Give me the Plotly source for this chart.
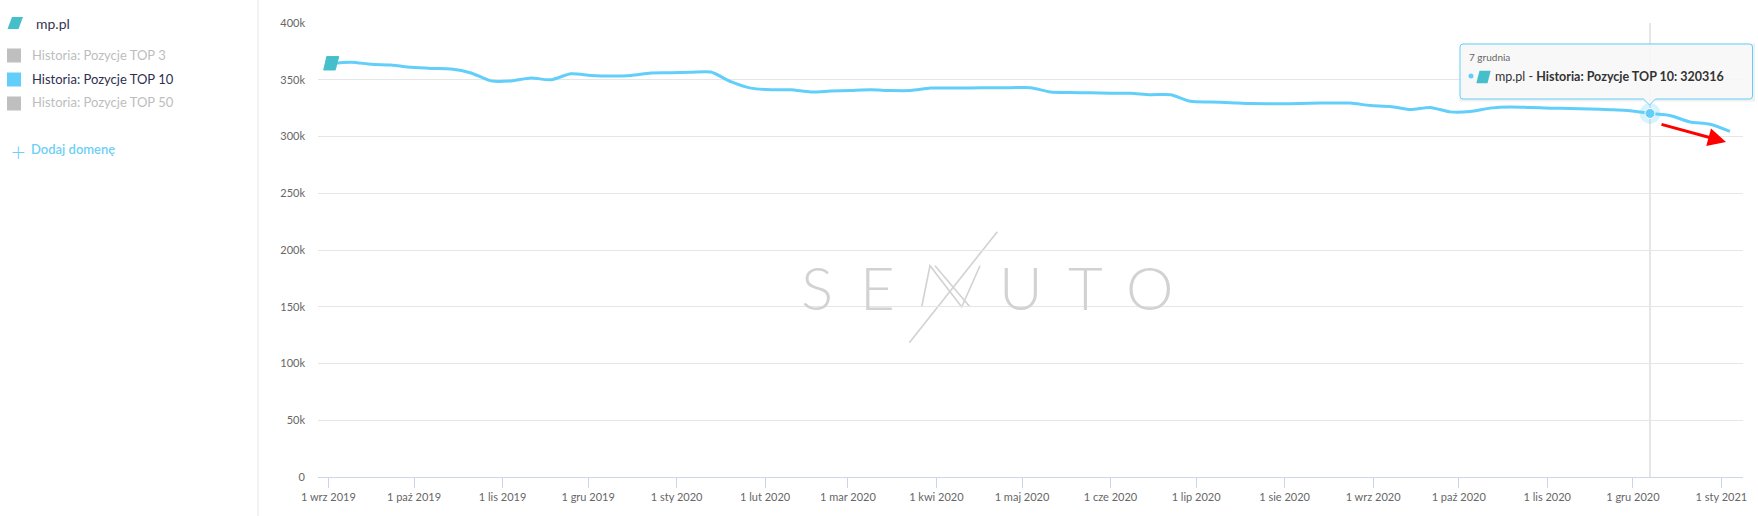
import plotly.graph_objects as go
from datetime import date, timedelta

# ---------------- data ----------------
series_name = "Historia: Pozycje TOP 10"
domain_name = "mp.pl"
start_week = date(2019, 9, 2)
values = [364500, 365500, 363600, 362900, 361000, 360000, 359500, 356000, 349000, 349000,
          351500, 350000, 355300, 353800, 353300, 353800, 356000, 356200, 356500, 356800,
          348300, 342600, 341200, 341200, 339200, 340000, 340600, 341200, 340500, 340500,
          342700, 342700, 342800, 343000, 343000, 343000, 339200, 338800, 338500, 338200,
          338000, 336800, 336800, 331000, 330400, 329800, 329000, 328900, 328900, 329300,
          329500, 329500, 327300, 326500, 323700, 325600, 321700, 322000, 325000, 326000,
          325500, 325000, 324600, 324200, 323600, 322700, 320316, 318500, 312800, 310800,
          304500]
dates = [start_week + timedelta(weeks=i) for i in range(len(values))]
hover_index = 66

month_abbr = ["sty", "lut", "mar", "kwi", "maj", "cze", "lip", "sie", "wrz", "paź", "lis", "gru"]
month_gen = ["stycznia", "lutego", "marca", "kwietnia", "maja", "czerwca", "lipca", "sierpnia",
             "września", "października", "listopada", "grudnia"]
tick_months = [(2019, 9), (2019, 10), (2019, 11), (2019, 12), (2020, 1), (2020, 2), (2020, 3),
               (2020, 4), (2020, 5), (2020, 6), (2020, 7), (2020, 8), (2020, 9), (2020, 10),
               (2020, 11), (2020, 12), (2021, 1)]
x_tickvals = [date(y, m, 1).isoformat() for y, m in tick_months]
x_ticktext = [f"1 {month_abbr[m - 1]} {y}" for y, m in tick_months]
y_tickvals = [0, 50000, 100000, 150000, 200000, 250000, 300000, 350000, 400000]
y_ticktext = ["0", "50k", "100k", "150k", "200k", "250k", "300k", "350k", "400k"]

legend_items = ["Historia: Pozycje TOP 3", "Historia: Pozycje TOP 10", "Historia: Pozycje TOP 50"]
legend_active = [False, True, False]

# ---------------- layout geometry ----------------
W, H = 1758, 516
L, R, T, B = 318, 15, 23, 39
PW, PH = W - L - R, H - T - B

def px(x):
    return (x - L) / PW

def py(y):
    return (H - B - y) / PH

LINE = "#62cffa"
TEAL = "#45bfca"
FONT = "Lato"

fig = go.Figure()

fig.add_trace(go.Scatter(
    x=dates, y=values, mode="lines", name=series_name,
    line=dict(color=LINE, width=3, shape="spline", smoothing=0.7),
    hoverinfo="skip", showlegend=False))

# hovered point (halo + dot)
fig.add_trace(go.Scatter(
    x=[dates[hover_index]], y=[values[hover_index]], mode="markers",
    marker=dict(size=21, color="rgba(98,207,250,0.25)"), hoverinfo="skip",
    showlegend=False, cliponaxis=False))
fig.add_trace(go.Scatter(
    x=[dates[hover_index]], y=[values[hover_index]], mode="markers",
    marker=dict(size=10, color=LINE, line=dict(color="white", width=1)), hoverinfo="skip",
    showlegend=False, cliponaxis=False))

shapes = []
annotations = []

# crosshair
shapes.append(dict(type="line", xref="x", yref="paper", x0=dates[hover_index], x1=dates[hover_index],
                   y0=0, y1=1, line=dict(color="#cccccc", width=1), layer="below"))

# first-point marker (parallelogram), anchored to data
shapes.append(dict(type="path", xref="x", yref="y", xsizemode="pixel", ysizemode="pixel",
                   xanchor=dates[0], yanchor=values[0],
                   path="M -4.5,6.7 L 7.5,6.7 L 4,-6.7 L -7.5,-6.7 Z",
                   fillcolor=TEAL, line=dict(color=TEAL, width=1), layer="above"))

# left panel separator
shapes.append(dict(type="line", xref="paper", yref="paper", x0=px(258), x1=px(258),
                   y0=py(H), y1=py(0), line=dict(color="#e6e6e6", width=1)))

def ppath(pts):
    return "M " + " L ".join(f"{px(a):.6f},{py(b):.6f}" for a, b in pts) + " Z"

def ppath_open(pts):
    return "M " + " L ".join(f"{px(a):.6f},{py(b):.6f}" for a, b in pts)

# left panel: domain
shapes.append(dict(type="path", xref="paper", yref="paper",
                   path=ppath([(12, 17), (23, 17), (18.5, 29), (7.5, 29)]),
                   fillcolor=TEAL, line=dict(width=0)))
annotations.append(dict(xref="paper", yref="paper", x=px(34), y=py(23), text=domain_name,
                        showarrow=False, xanchor="left", yanchor="middle",
                        font=dict(family=FONT, size=14, color="#36364f")))

for i, (name, active) in enumerate(zip(legend_items, legend_active)):
    yc = 55.5 + 24 * i
    col = LINE if active else "#bfbfbf"
    shapes.append(dict(type="rect", xref="paper", yref="paper",
                       x0=px(7), x1=px(21), y0=py(yc - 7), y1=py(yc + 7),
                       fillcolor=col, line=dict(width=0)))
    annotations.append(dict(xref="paper", yref="paper", x=px(30), y=py(yc - 1), text=name,
                            showarrow=False, xanchor="left", yanchor="middle",
                            font=dict(family=FONT, size=13,
                                      color="#2f2f4f" if active else "#bdbdbd")))

annotations.append(dict(xref="paper", yref="paper", x=px(9), y=py(151), text="+",
                        showarrow=False, xanchor="left", yanchor="middle",
                        font=dict(family=FONT, size=25, color="#6dcff6", weight=300)))
annotations.append(dict(xref="paper", yref="paper", x=px(29), y=py(149), text="Dodaj domenę",
                        showarrow=False, xanchor="left", yanchor="middle",
                        font=dict(family=FONT, size=13, color="#6dcff6", weight=600)))

# SENUTO watermark
wm_col = "#d2d2d2"
for ch, xc in [("S", 817), ("E", 877), ("U", 1021), ("T", 1085), ("O", 1150)]:
    annotations.append(dict(xref="paper", yref="paper", x=px(xc), y=py(287), text=ch,
                            showarrow=False, xanchor="center", yanchor="middle",
                            font=dict(family=FONT, size=60, color=wm_col, weight=300)))
for pts in [[(909.3, 342.7), (997.3, 231.7)],
            [(921.7, 307), (930, 265.7), (961.7, 307), (980, 265.7)],
            [(935, 265.7), (970, 307)]]:
    shapes.append(dict(type="path", xref="paper", yref="paper", path=ppath_open(pts),
                       line=dict(color=wm_col, width=1.6), layer="below"))

# tooltip
x0, x1, y0, y1, r = 1460, 1752.5, 44, 99, 3
tip_x = 1649.5

def P(a, b):
    return f"{px(a):.6f},{py(b):.6f}"

tooltip_path = (f"M {P(x0 + r, y0)} L {P(x1 - r, y0)} Q {P(x1, y0)} {P(x1, y0 + r)} "
                f"L {P(x1, y1 - r)} Q {P(x1, y1)} {P(x1 - r, y1)} "
                f"L {P(tip_x + 6, y1)} L {P(tip_x, y1 + 6)} L {P(tip_x - 6, y1)} "
                f"L {P(x0 + r, y1)} Q {P(x0, y1)} {P(x0, y1 - r)} L {P(x0, y0 + r)} "
                f"Q {P(x0, y0)} {P(x0 + r, y0)} Z")
shadow_path = (f"M {P(x0 + 1 + r, y0 + 1)} L {P(x1 + 1, y0 + 1)} L {P(x1 + 1, y1 + 1)} "
               f"L {P(x0 + 1, y1 + 1)} Z")
shapes.append(dict(type="path", xref="paper", yref="paper", path=shadow_path,
                   fillcolor="rgba(0,0,0,0.0)", line=dict(color="rgba(0,0,0,0.06)", width=3),
                   layer="above"))
shapes.append(dict(type="path", xref="paper", yref="paper", path=tooltip_path,
                   fillcolor="rgba(247,247,247,0.92)", line=dict(color=LINE, width=1),
                   layer="above"))
hd = dates[hover_index]
annotations.append(dict(xref="paper", yref="paper", x=px(1467), y=py(57.5),
                        text=f"{hd.day} {month_gen[hd.month - 1]}", showarrow=False,
                        xanchor="left", yanchor="middle",
                        font=dict(family=FONT, size=10, color="#666666")))
shapes.append(dict(type="circle", xref="paper", yref="paper", x0=px(1468.5), x1=px(1473.5),
                   y0=py(73.5), y1=py(78.5), fillcolor=LINE, line=dict(width=0), layer="above"))
shapes.append(dict(type="path", xref="paper", yref="paper",
                   path=ppath([(1479.5, 70.7), (1490.7, 70.7), (1487.5, 83.3), (1476.3, 83.3)]),
                   fillcolor=TEAL, line=dict(width=0), layer="above"))
annotations.append(dict(xref="paper", yref="paper", x=px(1493), y=py(76.5),
                        text=f"{domain_name} - <b>{series_name}: {values[hover_index]}</b>",
                        showarrow=False, xanchor="left", yanchor="middle",
                        font=dict(family=FONT, size=12.5, color="#333333")))

# red arrow
annotations.append(dict(xref="paper", yref="paper", x=px(1726), y=py(142), text="",
                        showarrow=True, ax=-66, ay=-18, axref="pixel", ayref="pixel",
                        arrowhead=2, arrowsize=1.2, arrowwidth=3, arrowcolor="#ff0000",
                        standoff=0, startstandoff=0))

fig.update_layout(
    width=W, height=H, margin=dict(l=L, r=R, t=T, b=B, pad=0),
    paper_bgcolor="white", plot_bgcolor="white",
    shapes=shapes, annotations=annotations, hovermode=False,
    font=dict(family=FONT, color="#666666"),
    xaxis=dict(type="date", range=["2019-08-28 08:40", "2021-01-08 14:00"],
               tickmode="array", tickvals=x_tickvals, ticktext=x_ticktext,
               ticks="outside", ticklen=10, tickcolor="#ccd6eb", tickwidth=1,
               showgrid=False, showline=True, linecolor="#ccd6eb", linewidth=1,
               zeroline=False, tickfont=dict(family=FONT, size=11, color="#666666")),
    yaxis=dict(range=[0, 400000], tickmode="array", tickvals=y_tickvals, ticktext=y_ticktext,
               showgrid=True, gridcolor="#e6e6e6", gridwidth=1, zeroline=False,
               showline=False, ticks="", ticklabelstandoff=12,
               tickfont=dict(family=FONT, size=11, color="#666666")),
)

fig.write_html("out.html", config={"displayModeBar": False},
               post_script="document.body.style.margin='0px';document.body.style.overflow='hidden';")
